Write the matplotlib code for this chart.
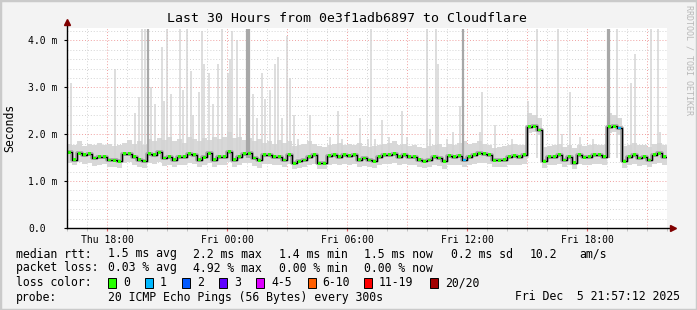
import numpy as np
import matplotlib
matplotlib.use("Agg")
import matplotlib.pyplot as plt
from matplotlib.patches import Rectangle

# SmokePing style latency graph, 15 minute steps from Thu 16:00 (hours since then)
median_ms = [
    1.61, 1.46, 1.59, 1.56, 1.58, 1.49, 1.52, 1.52, 1.45, 1.44,
    1.42, 1.58, 1.58, 1.52, 1.46, 1.43, 1.58, 1.56, 1.61, 1.49,
    1.52, 1.46, 1.52, 1.52, 1.58, 1.56, 1.46, 1.51, 1.59, 1.46,
    1.52, 1.52, 1.63, 1.46, 1.52, 1.58, 1.59, 1.49, 1.44, 1.56,
    1.56, 1.52, 1.52, 1.45, 1.56, 1.38, 1.42, 1.45, 1.52, 1.56,
    1.38, 1.38, 1.54, 1.56, 1.52, 1.56, 1.54, 1.56, 1.46, 1.49,
    1.45, 1.42, 1.52, 1.56, 1.56, 1.58, 1.52, 1.56, 1.52, 1.52,
    1.46, 1.42, 1.45, 1.52, 1.49, 1.42, 1.54, 1.52, 1.54, 1.45,
    1.52, 1.56, 1.59, 1.58, 1.56, 1.44, 1.44, 1.46, 1.52, 1.54,
    1.52, 1.56, 2.16, 2.17, 2.09, 1.42, 1.52, 1.52, 1.56, 1.45,
    1.52, 1.39, 1.56, 1.51, 1.52, 1.56, 1.56, 1.52, 2.16, 2.17,
    2.13, 1.42, 1.52, 1.56, 1.49, 1.52, 1.45, 1.56, 1.59, 1.52,
]
# packet loss per step (index into loss colours)
loss_level = [0] * 120
loss_level[79] = 1
loss_level[110] = 1

smoke_hi = [
    1.80, 1.78, 1.85, 1.75, 1.80, 1.78, 1.82, 1.76, 1.80, 1.74,
    1.78, 1.82, 1.88, 1.80, 1.85, 1.78, 1.90, 1.85, 1.92, 1.88,
    1.95, 1.85, 1.90, 1.82, 1.95, 1.90, 1.85, 1.92, 1.88, 1.95,
    1.90, 1.95, 2.05, 1.92, 1.95, 1.88, 1.92, 1.85, 1.90, 1.82,
    1.85, 1.80, 1.88, 1.82, 1.85, 1.75, 1.78, 1.80, 1.85, 1.80,
    1.75, 1.72, 1.78, 1.80, 1.82, 1.78, 1.80, 1.76, 1.82, 1.75,
    1.72, 1.74, 1.78, 1.80, 1.82, 1.85, 1.78, 1.80, 1.75, 1.78,
    1.72, 1.70, 1.74, 1.78, 1.80, 1.72, 1.80, 1.78, 1.82, 1.85,
    1.80, 1.82, 1.85, 1.80, 1.78, 1.70, 1.72, 1.74, 1.78, 1.80,
    1.76, 1.78, 2.45, 2.40, 2.35, 1.72, 1.75, 1.78, 1.80, 1.72,
    1.76, 1.70, 1.78, 1.75, 1.78, 1.80, 1.78, 1.76, 2.45, 2.40,
    2.35, 1.75, 1.78, 1.82, 1.76, 1.78, 1.72, 1.80, 1.82, 1.78,
]
smoke_lo = [
    1.38, 1.34, 1.40, 1.36, 1.38, 1.32, 1.35, 1.36, 1.30, 1.30,
    1.28, 1.38, 1.40, 1.35, 1.30, 1.28, 1.38, 1.36, 1.40, 1.32,
    1.35, 1.30, 1.34, 1.35, 1.38, 1.36, 1.30, 1.34, 1.38, 1.30,
    1.35, 1.34, 1.40, 1.30, 1.34, 1.38, 1.38, 1.32, 1.28, 1.36,
    1.36, 1.34, 1.34, 1.30, 1.36, 1.26, 1.28, 1.30, 1.34, 1.36,
    1.26, 1.26, 1.35, 1.36, 1.34, 1.36, 1.35, 1.36, 1.30, 1.32,
    1.30, 1.28, 1.34, 1.36, 1.36, 1.38, 1.34, 1.36, 1.34, 1.34,
    1.30, 1.28, 1.30, 1.34, 1.32, 1.26, 1.35, 1.34, 1.35, 1.30,
    1.34, 1.36, 1.38, 1.38, 1.36, 1.30, 1.30, 1.30, 1.34, 1.35,
    1.34, 1.36, 2.02, 2.04, 1.98, 1.28, 1.34, 1.34, 1.36, 1.30,
    1.34, 1.26, 1.36, 1.34, 1.34, 1.36, 1.36, 1.34, 2.02, 2.04,
    1.98, 1.28, 1.34, 1.36, 1.32, 1.34, 1.30, 1.36, 1.38, 1.34,
]

# single slow pings (hours since Thu 16:00, top in ms, darker or not)
spike_hours = [0.20, 2.40, 3.40, 3.60, 3.75, 3.90, 4.05, 4.20, 4.40, 4.75,
               4.85, 5.00, 5.20, 5.65, 5.80, 6.00, 6.20, 6.30, 6.60, 6.75,
               6.85, 7.10, 7.30, 7.55, 7.77, 8.03, 8.15, 8.27, 8.48, 8.65,
               9.00, 9.10, 9.32, 9.48, 9.73, 9.90, 10.15, 10.40, 10.57, 10.73,
               10.98, 11.15, 11.37, 11.53, 12.15, 13.15, 13.53, 13.77, 14.65, 15.07,
               15.20, 15.40, 15.73, 16.10, 16.73, 16.98, 17.98, 18.15, 18.43, 18.53,
               18.98, 19.32, 19.65, 19.78, 20.65, 20.77, 21.40, 22.23, 23.03, 23.48,
               24.53, 24.73, 25.15, 25.65, 26.32, 27.03, 27.10, 27.48, 28.20, 28.40,
               29.20, 29.53, 29.65]
spike_tops = [3.10, 3.40, 2.45, 2.80, 4.25, 4.25, 4.25, 3.00, 2.65, 3.85,
              2.70, 4.25, 2.85, 4.25, 2.95, 4.25, 3.35, 2.40, 2.90, 4.20,
              3.50, 3.30, 2.65, 3.50, 4.25, 3.30, 3.60, 4.20, 4.00, 2.35,
              4.25, 4.25, 2.85, 2.35, 3.30, 2.75, 2.95, 3.50, 3.65, 2.35,
              4.10, 3.20, 2.40, 1.90, 2.40, 1.95, 2.50, 1.90, 2.35, 1.90,
              4.25, 1.90, 2.30, 1.95, 2.50, 1.95, 4.25, 2.10, 4.25, 3.50,
              1.90, 2.05, 2.60, 4.25, 2.05, 2.90, 2.20, 1.90, 2.70, 4.25,
              4.25, 2.00, 2.90, 1.95, 1.90, 4.25, 4.25, 4.25, 3.10, 3.70,
              4.25, 4.25, 2.05]
spike_dark = [0, 0, 0, 0, 0, 0, 1, 0, 0, 0,
              0, 0, 0, 0, 0, 0, 0, 0, 0, 0,
              0, 0, 0, 0, 0, 0, 0, 0, 0, 0,
              1, 1, 0, 0, 0, 0, 0, 0, 0, 0,
              0, 0, 0, 0, 0, 0, 0, 0, 0, 0,
              0, 0, 0, 0, 0, 0, 0, 0, 0, 0,
              0, 0, 0, 1, 0, 0, 0, 0, 0, 0,
              0, 0, 0, 0, 0, 1, 1, 0, 0, 0,
              0, 0, 0]

tick_hours = [2, 8, 14, 20, 26]
tick_labels = ["Thu 18:00", "Fri 00:00", "Fri 06:00", "Fri 12:00", "Fri 18:00"]
ytick_vals = [0, 1, 2, 3, 4]
ytick_labels = ["0.0", "1.0 m", "2.0 m", "3.0 m", "4.0 m"]

loss_names = ["0", "1", "2", "3", "4-5", "6-10", "11-19", "20/20"]
loss_colors = ["#26ff00", "#00b8ff", "#0059ff", "#5e00ff", "#dd00ff", "#ff5e00", "#ff0000", "#a10000"]

MONO = "DejaVu Sans Mono"
plt.rcParams['font.family'] = MONO
W, H = 697, 310

fig = plt.figure(figsize=(W / 100, H / 100), dpi=100, facecolor="#f3f3f3")
ax = fig.add_axes([67 / W, (H - 228) / H, 600 / W, 200.3 / H])
ax.set_facecolor("white")
ax.set_xlim(0, 30)
ax.set_ylim(0, 4.27)

# grid (minor grey, major red)
for h in range(1, 30):
    col = "#f0a0a0" if h % 3 == 2 else "#d4d4d4"
    ax.axvline(h, color=col, lw=0.7, ls=(0, (1, 2)), zorder=0)
for v in np.arange(0.2, 4.27, 0.2):
    major = abs(v - round(v)) < 1e-6
    ax.axhline(v, color="#f0a0a0" if major else "#d4d4d4", lw=0.7, ls=(0, (1, 2)), zorder=0)

t = np.arange(len(median_ms)) * 0.25
t_edges = np.append(t, t[-1] + 0.25)

# smoke
ax.fill_between(t_edges, np.append(smoke_lo, smoke_lo[-1]), np.append(smoke_hi, smoke_hi[-1]),
                step="post", color="#d8d8d8", lw=0, zorder=1)
for h, top, dark in zip(spike_hours, spike_tops, spike_dark):
    ax.vlines(h, 1.5, top, color="#a8a8a8" if dark else "#d4d4d4",
              lw=1.6 if dark else 1.1, zorder=2 if dark else 1.5)

med = np.append(median_ms, median_ms[-1])
ax.plot(t_edges, med, drawstyle="steps-post", color="#a2a2a2", lw=2.6, zorder=3)
ax.plot(t_edges, med, drawstyle="steps-post", color="black", lw=0.9, zorder=4)
dot_cols = [loss_colors[l] for l in loss_level]
ax.scatter(t + 0.125, median_ms, c=dot_cols, marker="s", s=4, lw=0, zorder=5)

# axes with arrows
for s in ax.spines.values():
    s.set_visible(False)
ax.plot([0, 1.01], [0, 0], transform=ax.transAxes, color="black", lw=1, clip_on=False, zorder=6)
ax.plot([0, 0], [0, 1.03], transform=ax.transAxes, color="black", lw=1, clip_on=False, zorder=6)
ax.plot([1.01], [0], transform=ax.transAxes, marker=">", color="#800000", ms=4, clip_on=False, zorder=7)
ax.plot([0], [1.03], transform=ax.transAxes, marker="^", color="#800000", ms=4, clip_on=False, zorder=7)

ax.set_xticks(tick_hours)
ax.set_xticklabels(tick_labels, fontsize=7)
ax.set_xticks(range(0, 31), minor=True)
ax.tick_params(axis="x", which="major", length=2, color="#e06060", pad=3)
ax.tick_params(axis="x", which="minor", length=2, color="#bbbbbb")
ax.set_yticks(ytick_vals)
ax.set_yticklabels(ytick_labels, fontsize=7, ha="left")
ax.tick_params(axis="y", length=2, color="black", pad=26)
ax.set_ylabel("Seconds", fontsize=8.3)
ax.yaxis.set_label_coords(-51 / 600, 0.5)

fig.text(347 / W, 1 - 18 / H, "Last 30 Hours from 0e3f1adb6897 to Cloudflare",
         ha="center", va="center", fontsize=9.5)
fig.text(689 / W, 1 - 5 / H, "RRDTOOL / TOBI OETIKER", rotation=270,
         ha="center", va="top", fontsize=6, color="#b8b8b8")

# legend block
def ftext(x, y, s, **kw):
    fig.text(x / W, 1 - y / H, s, va="center", ha=kw.pop("ha", "left"), fontsize=8.3, **kw)

ftext(15.6, 254, "median rtt:")
for x, s in zip([107.6, 193, 279, 364, 451, 530, 579],
                ["1.5 ms avg", "2.2 ms max", "1.4 ms min", "1.5 ms now", "0.2 ms sd", "10.2", "am/s"]):
    ftext(x, 254, s)
ftext(15.6, 268, "packet loss:")
for x, s in zip([107.6, 193, 279, 364], ["0.03 % avg", "4.92 % max", "0.00 % min", "0.00 % now"]):
    ftext(x, 268, s)
ftext(15.6, 282.5, "loss color:")
box_x = [108, 145, 182, 219, 256, 307.5, 364, 430]
for bx, name, col in zip(box_x, loss_names, loss_colors):
    fig.patches.append(Rectangle((bx / W, 1 - 288 / H), 8 / W, 10 / H, transform=fig.transFigure,
                                 facecolor=col, edgecolor="black", lw=0.7))
    ftext(bx + 15, 282.5, name)
ftext(15.6, 297, "probe:")
ftext(107.6, 297, "20 ICMP Echo Pings (56 Bytes) every 300s")
ftext(680, 297, "Fri Dec  5 21:57:12 2025", ha="right")

fig.patches.append(Rectangle((0, 0), 1, 1, transform=fig.transFigure, fill=False,
                             edgecolor="#cacaca", lw=2.5))

fig.savefig("out.png", dpi=100, facecolor=fig.get_facecolor())
